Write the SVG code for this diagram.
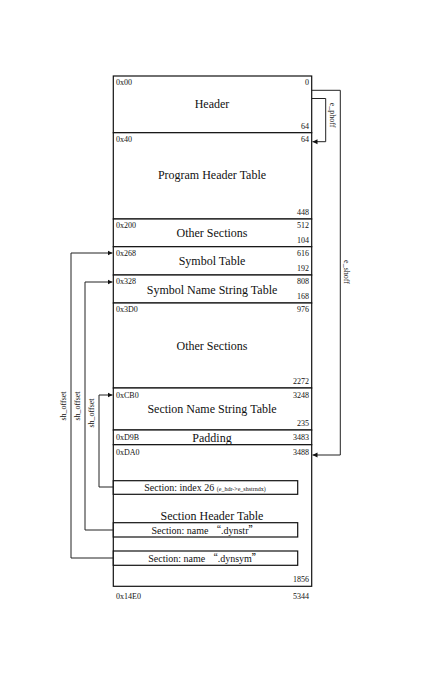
<svg xmlns="http://www.w3.org/2000/svg" width="433" height="695" viewBox="0 0 433 695">
<style>
text{font-family:"Liberation Serif","Times New Roman",serif;fill:#111}
.t{font-size:12px;text-anchor:middle}
.s{font-size:8px}
.r{font-size:8px;text-anchor:end}
.b{font-size:10px;text-anchor:middle}
.q{font-family:"Noto Sans CJK SC",sans-serif}
.box{fill:#fff;stroke:#111;stroke-width:1.2}
.ln{fill:none;stroke:#222;stroke-width:1}
</style>
<defs>
<marker id="a" markerWidth="6" markerHeight="6" refX="5" refY="3" orient="auto" markerUnits="userSpaceOnUse">
<path d="M0,0.5 L5,3 L0,5.5 Z" fill="#111"/>
</marker>
</defs>
<rect width="433" height="695" fill="#fff"/>
<g id="header"><rect class="box" x="113.3" y="76" width="198.4" height="56.7"/>
<text class="s" x="116" y="85">0x00</text><text class="r" x="309" y="85">0</text>
<text class="t" x="212" y="108">Header</text><text class="r" x="309" y="129">64</text></g>
<g id="pht"><rect class="box" x="113.3" y="132.7" width="198.4" height="86.3"/>
<text class="s" x="116" y="142">0x40</text><text class="r" x="309" y="142">64</text>
<text class="t" x="212" y="179">Program Header Table</text><text class="r" x="309" y="215">448</text></g>
<g id="other1"><rect class="box" x="113.3" y="219" width="198.4" height="27.7"/>
<text class="s" x="116" y="228">0x200</text><text class="r" x="309" y="228">512</text>
<text class="t" x="212" y="237">Other Sections</text><text class="r" x="309" y="243">104</text></g>
<g id="symtab"><rect class="box" x="113.3" y="246.7" width="198.4" height="28.3"/>
<text class="s" x="116" y="256">0x268</text><text class="r" x="309" y="256">616</text>
<text class="t" x="212" y="265">Symbol Table</text><text class="r" x="309" y="271">192</text></g>
<g id="strtab"><rect class="box" x="113.3" y="275" width="198.4" height="28"/>
<text class="s" x="116" y="284">0x328</text><text class="r" x="309" y="284">808</text>
<text class="t" x="212" y="294">Symbol Name String Table</text><text class="r" x="309" y="299">168</text></g>
<g id="other2"><rect class="box" x="113.3" y="303" width="198.4" height="85"/>
<text class="s" x="116" y="312">0x3D0</text><text class="r" x="309" y="312">976</text>
<text class="t" x="212" y="350">Other Sections</text><text class="r" x="309" y="384">2272</text></g>
<g id="shstrtab"><rect class="box" x="113.3" y="388" width="198.4" height="42"/>
<text class="s" x="116" y="398">0xCB0</text><text class="r" x="309" y="398">3248</text>
<text class="t" x="212" y="413">Section Name String Table</text><text class="r" x="309" y="426">235</text></g>
<g id="padding"><rect class="box" x="113.3" y="430" width="198.4" height="14.7"/>
<text class="s" x="116" y="440">0xD9B</text><text class="r" x="309" y="440">3483</text>
<text class="t" x="212" y="442">Padding</text></g>
<g id="sht"><rect class="box" x="113.3" y="444.7" width="198.4" height="141.6"/>
<text class="s" x="116" y="455">0xDA0</text><text class="r" x="309" y="455">3488</text>
<text class="t" x="212" y="519.5">Section Header Table</text><text class="r" x="309" y="582">1856</text></g>
<g id="sec26"><rect class="box" x="113.3" y="480.7" width="184.4" height="13.6"/>
<text x="205" y="491" style="font-size:10px;text-anchor:middle">Section: index 26 <tspan style="font-size:6px">(e_hdr-&gt;e_shstrndx)</tspan></text></g>
<g id="secdynstr"><rect class="box" x="113.3" y="522.7" width="184.4" height="14.3"/>
<text class="b" x="205" y="533.5">Section: name <tspan class="q">“</tspan>.dynstr<tspan class="q">”</tspan></text></g>
<g id="secdynsym"><rect class="box" x="113.3" y="551" width="184.4" height="14.3"/>
<text class="b" x="205" y="561.5">Section: name <tspan class="q">“</tspan>.dynsym<tspan class="q">”</tspan></text></g>
<g id="end"><text class="s" x="116" y="599">0x14E0</text><text class="r" x="309" y="599">5344</text></g>
<g id="connectors">
<path class="ln" d="M311.7,98.5 H325.7 V141.7 H312.5" marker-end="url(#a)"/>
<path class="ln" d="M311.7,90.3 H340.3 V455 H312.5" marker-end="url(#a)"/>
<path class="ln" d="M113.3,558 H71 V253 H112.5" marker-end="url(#a)"/>
<path class="ln" d="M113.3,530 H85 V282 H112.5" marker-end="url(#a)"/>
<path class="ln" d="M113.3,487 H99 V395 H112.5" marker-end="url(#a)"/>
<text class="s" transform="translate(330,115) rotate(90)" style="text-anchor:middle">e_phoff</text>
<text class="s" transform="translate(344,272) rotate(90)" style="text-anchor:middle">e_shoff</text>
<text class="s" transform="translate(66,406) rotate(-90)" style="text-anchor:middle">sh_offset</text>
<text class="s" transform="translate(80,406) rotate(-90)" style="text-anchor:middle">sh_offset</text>
<text class="s" transform="translate(94,413) rotate(-90)" style="text-anchor:middle">sh_offset</text>
</g>
</svg>
